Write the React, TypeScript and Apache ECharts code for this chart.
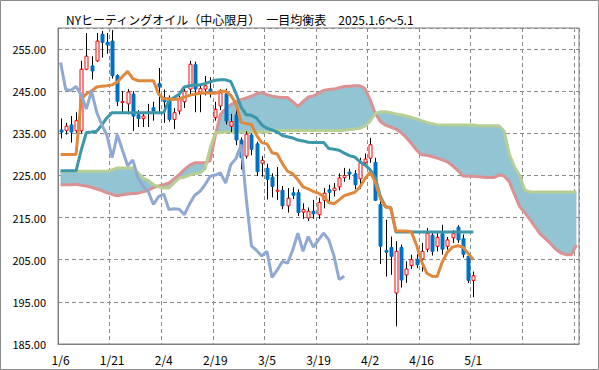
import React, { useEffect, useRef } from "react";
import * as echarts from "echarts";

const TITLE = "NYヒーティングオイル（中心限月）　一目均衡表　2025.1.6〜5.1";

// trading dates (1/6 .. 5/1)
const dates = [
  "1/6","1/7","1/8","1/9","1/10","1/13","1/14","1/15","1/16","1/17",
  "1/21","1/22","1/23","1/24","1/27","1/28","1/29","1/30","1/31","2/3",
  "2/4","2/5","2/6","2/7","2/10","2/11","2/12","2/13","2/14","2/18",
  "2/19","2/20","2/21","2/24","2/25","2/26","2/27","2/28","3/3","3/4",
  "3/5","3/6","3/7","3/10","3/11","3/12","3/13","3/14","3/17","3/18",
  "3/19","3/20","3/21","3/24","3/25","3/26","3/27","3/28","3/31","4/1",
  "4/2","4/3","4/4","4/7","4/8","4/9","4/10","4/11","4/14","4/15",
  "4/16","4/17","4/21","4/22","4/23","4/24","4/25","4/28","4/29","4/30",
  "5/1",
];
// future periods covered by the leading spans (no labels shown)
const futureDates = [
  "5/2","5/5","5/6","5/7","5/8","5/9","5/12","5/13","5/14","5/15",
  "5/16","5/19","5/20","5/21","5/22","5/23","5/27","5/28","5/29","5/30",
];

// [open, close, low, high]
const ohlc = [
  [235.8,235.3,233.8,238.5],[235.7,236.7,234.7,237.5],[237.0,235.3,232.8,239.1],[235.6,238.0,235.0,240.0],
  [235.6,250.2,235.0,252.2],[250.2,253.3,250.0,258.8],[251.0,249.8,247.8,253.3],[252.2,256.9,252.0,258.8],
  [258.5,256.6,253.0,259.3],[256.6,256.0,253.9,258.8],[256.9,248.7,248.0,259.5],[248.7,242.6,241.5,249.0],
  [242.3,242.6,240.0,245.0],[242.0,244.8,239.5,245.5],[244.3,239.1,235.6,245.0],[239.4,238.5,236.5,240.5],
  [238.5,239.1,236.5,240.0],[240.0,240.2,236.5,242.0],[241.1,240.3,238.0,242.5],[246.8,246.0,240.0,250.5],
  [243.5,242.5,237.5,245.4],[242.7,238.3,237.8,244.0],[238.3,239.9,236.0,241.0],[240.3,243.1,239.5,244.0],
  [242.5,245.0,241.0,246.0],[245.5,251.4,244.0,252.2],[251.3,245.5,240.0,252.0],[244.8,245.6,240.0,246.5],
  [245.5,246.3,244.0,248.6],[245.5,244.9,243.5,248.3],[238.7,240.7,238.0,242.5],[241.5,244.6,240.5,245.5],
  [244.4,237.9,237.1,245.6],[236.7,237.8,235.3,239.6],[239.4,233.4,232.2,240.5],[233.4,229.2,226.4,234.0],
  [229.6,234.8,229.0,235.5],[234.6,231.2,229.8,235.0],[232.5,225.9,224.9,233.0],[227.9,228.6,224.7,229.6],
  [226.7,224.1,219.3,227.8],[224.6,222.4,219.8,225.5],[221.3,221.5,219.2,227.0],[221.5,217.8,217.0,222.5],
  [217.8,219.6,216.2,222.0],[220.9,220.3,219.4,222.2],[220.9,216.2,215.4,221.7],[216.3,216.9,214.7,218.4],
  [214.9,216.5,214.2,217.4],[216.5,215.9,214.7,219.2],[215.7,218.6,214.7,219.7],[219.1,220.8,217.2,222.0],
  [221.6,221.0,218.9,222.8],[221.4,222.0,220.0,223.2],[222.3,224.4,221.5,225.5],[224.5,225.0,223.5,226.8],
  [225.8,225.3,224.0,226.6],[225.4,222.8,221.8,226.3],[224.2,228.0,221.8,229.2],[228.0,228.9,227.6,230.2],
  [229.1,232.3,228.0,233.9],[228.1,219.1,219.0,229.2],[218.1,208.2,204.0,219.2],[207.2,206.8,201.0,214.5],
  [207.9,205.8,201.4,210.5],[197.1,207.0,189.2,209.4],[207.9,200.2,198.4,208.6],[201.4,202.8,199.5,204.6],
  [203.6,205.0,202.8,206.2],[205.1,203.8,203.0,206.3],[205.2,207.0,202.2,209.0],[207.5,211.2,206.8,212.5],
  [210.8,207.0,206.0,211.8],[208.2,210.3,207.0,211.6],[211.2,207.5,206.2,213.3],[208.2,209.7,207.4,210.4],
  [210.2,211.2,209.0,212.0],[212.7,209.7,209.0,213.2],[210.0,206.3,205.5,211.0],[205.8,200.1,199.5,206.8],
  [200.1,201.2,196.1,202.2],
];

// 転換線
const conversion = [
  226.1,226.1,226.1,226.1,231.0,235.2,235.3,235.5,237.0,238.7,
  239.9,239.9,239.9,239.9,239.9,239.9,239.9,239.9,239.9,239.9,
  239.9,242.8,243.5,244.3,246.0,246.3,246.5,246.5,246.8,247.2,
  247.6,247.7,247.7,247.3,244.5,241.2,239.4,239.3,238.6,237.0,
  236.2,235.8,235.3,234.5,234.2,233.9,233.4,233.2,232.9,232.8,
  232.8,232.8,231.4,231.2,231.0,230.3,229.7,229.4,228.3,227.5,
  226.4,224.5,220.0,217.6,217.4,211.6,211.6,211.6,211.6,211.6,
  211.6,211.6,211.6,211.6,211.6,211.6,211.6,211.6,211.6,211.6,
  211.6,
];

// 基準線
const base = [
  230.0,230.0,230.0,230.0,243.0,244.4,245.0,246.0,246.2,246.3,
  246.5,247.2,248.5,249.7,248.0,247.5,247.5,247.5,247.5,244.3,
  243.2,243.2,243.0,243.2,243.6,244.0,244.3,244.5,244.6,244.6,
  244.5,245.0,245.0,244.0,242.1,237.6,237.3,237.1,234.5,232.8,
  232.5,230.4,230.1,227.8,226.0,225.4,224.0,222.3,221.8,221.2,
  220.8,220.0,218.6,218.3,219.2,220.2,220.6,221.0,222.2,224.2,
  225.8,223.5,219.5,217.5,217.3,211.8,211.8,211.8,211.6,208.5,
  204.5,201.8,201.1,201.0,204.5,206.8,208.0,208.3,208.0,206.5,
  205.0,
];

// 遅行スパン
const lagging = [
  251.8,245.4,245.2,246.1,244.2,240.8,245.0,240.0,237.0,234.5,
  229.2,234.7,231.0,227.3,228.7,224.4,222.5,221.2,218.1,220.0,
  220.6,216.9,217.1,217.0,215.7,218.2,220.3,221.2,222.8,224.8,
  225.1,225.6,223.2,227.6,229.0,232.3,219.5,208.3,207.2,205.9,
  207.0,200.8,202.6,204.6,204.2,207.3,211.3,207.0,210.5,208.0,
  209.7,211.3,209.7,205.9,200.3,201.1,
];

// 先行スパン1
const spanA = [
  225.8,226.0,226.0,226.0,226.0,226.0,226.0,226.0,226.0,226.0,
  226.3,226.8,226.8,226.8,226.8,225.6,224.4,223.8,222.8,222.3,
  222.0,222.0,223.2,224.4,224.6,225.1,225.4,225.6,226.5,231.5,
  235.0,235.2,235.3,235.3,235.3,235.3,235.3,235.3,235.3,235.3,
  235.3,235.7,235.7,235.7,235.7,235.7,235.7,235.7,235.7,235.7,
  235.7,235.7,235.7,235.7,235.7,235.7,235.9,236.0,236.2,236.7,
  237.9,239.7,240.1,240.1,239.9,239.6,239.4,239.1,238.8,238.4,
  238.0,237.6,237.3,237.0,237.0,237.0,237.0,237.0,237.0,237.0,
  237.0,236.8,236.8,236.8,236.8,236.8,235.5,230.0,227.0,225.0,
  221.5,221.1,221.1,221.1,221.1,221.1,221.1,221.1,221.1,221.1,
  221.1,
];

// 先行スパン2
const spanB = [
  222.8,222.8,222.8,222.9,222.7,222.5,222.2,221.8,221.4,220.9,
  220.5,220.2,220.4,220.6,220.7,220.8,221.1,221.5,222.1,222.5,
  222.8,223.2,224.2,225.2,226.4,227.4,228.0,228.0,228.0,228.5,
  234.5,239.5,240.8,241.8,242.4,243.0,243.4,243.8,244.4,244.7,
  244.2,243.8,243.6,243.5,243.5,242.5,241.4,242.5,243.6,243.9,
  244.5,245.2,245.4,245.5,245.8,246.1,246.2,246.3,246.3,245.6,
  243.0,239.7,237.8,236.9,236.5,236.0,235.2,234.0,232.6,231.0,
  229.9,229.8,229.5,229.1,228.7,228.2,227.3,226.2,224.9,224.8,
  224.8,224.7,224.6,224.5,224.5,225.1,224.9,223.5,220.5,217.6,
  216.2,214.5,212.8,211.1,210.0,208.8,207.5,206.6,206.2,206.2,
  208.5,
];

const FONT = "'Noto Sans CJK JP', 'Noto Sans', sans-serif";

export default function App() {
  const ref = useRef<HTMLDivElement>(null);

  useEffect(() => {
    document.body.style.margin = "0";
    if (!ref.current) return;
    const chart = echarts.init(ref.current, undefined, { renderer: "svg" });
    const categories = dates.concat(futureDates);
    const candleData = ohlc.map((d, i) => [i, d[0], d[1], d[2], d[3]]);

    const option: any = {
      animation: false,
      backgroundColor: "#ffffff",
      textStyle: { fontFamily: FONT },
      title: {
        text: TITLE,
        left: 61,
        top: 8,
        textStyle: { fontSize: 12, fontWeight: "normal", color: "#000", fontFamily: FONT },
      },
      graphic: [
        {
          type: "rect",
          shape: { x: 0.5, y: 0.5, width: 598, height: 369 },
          style: { fill: "none", stroke: "#8c8c8c", lineWidth: 1 },
          silent: true,
        },
      ],
      grid: {
        left: 58,
        top: 28,
        right: 20,
        bottom: 26,
        show: true,
        borderColor: "#808080",
        borderWidth: 1,
        backgroundColor: "#fff",
      },
      xAxis: {
        type: "category",
        data: categories,
        boundaryGap: true,
        axisLine: { lineStyle: { color: "#808080" } },
        axisTick: { interval: 9, length: 5, lineStyle: { color: "#808080" } },
        axisLabel: {
          interval: 9,
          color: "#000",
          fontSize: 12,
          margin: 9,
          fontFamily: FONT,
          formatter: (v: string, i: number) => (i < dates.length ? v : ""),
        },
        splitLine: { show: true, interval: 9, lineStyle: { color: "#8a8a8a", type: [4, 3], width: 1 } },
      },
      yAxis: {
        type: "value",
        min: 185,
        max: 260,
        interval: 10,
        axisLine: { show: true, lineStyle: { color: "#808080" } },
        axisTick: { show: false },
        axisLabel: {
          color: "#000",
          fontSize: 11,
          margin: 12,
          fontFamily: FONT,
          formatter: (v: number) => (v >= 260 ? "" : v.toFixed(2)),
        },
        splitLine: { show: true, lineStyle: { color: "#8a8a8a", type: [4, 3], width: 1 } },
      },
      series: [
        {
          type: "custom",
          name: "cloud",
          silent: true,
          z: 1,
          data: [[0, spanA[0]]],
          renderItem: (params: any, api: any) => {
            if (params.dataIndex !== 0) return null;
            const pts: number[][] = [];
            for (let i = 0; i < spanA.length; i++) pts.push(api.coord([i, spanA[i]]));
            for (let i = spanB.length - 1; i >= 0; i--) pts.push(api.coord([i, spanB[i]]));
            return { type: "polygon", shape: { points: pts }, style: { fill: "#93c4d4" } };
          },
        },
        {
          type: "line",
          name: "spanB",
          data: spanB,
          showSymbol: false,
          z: 2,
          lineStyle: { color: "#d99291", width: 3 },
        },
        {
          type: "line",
          name: "spanA",
          data: spanA,
          showSymbol: false,
          z: 2,
          lineStyle: { color: "#b8cf93", width: 3 },
        },
        {
          type: "custom",
          name: "candles",
          z: 3,
          data: candleData,
          encode: { x: 0, y: [1, 2, 3, 4] },
          renderItem: (params: any, api: any) => {
            const i = api.value(0);
            const o = api.value(1);
            const c = api.value(2);
            const l = api.value(3);
            const h = api.value(4);
            const pO = api.coord([i, o]);
            const pC = api.coord([i, c]);
            const pL = api.coord([i, l]);
            const pH = api.coord([i, h]);
            const x = Math.round(pO[0]) + 0.5;
            const up = c >= o;
            const top = Math.min(pO[1], pC[1]);
            const bh = Math.max(Math.abs(pO[1] - pC[1]), 1);
            return {
              type: "group",
              children: [
                {
                  type: "line",
                  shape: { x1: x, y1: pH[1], x2: x, y2: pL[1] },
                  style: { stroke: "#000", lineWidth: 1 },
                },
                {
                  type: "rect",
                  shape: { x: x - 1.5, y: top, width: 3, height: bh },
                  style: {
                    fill: up ? "#ffffff" : "#0070c0",
                    stroke: up ? "#ff0000" : "#0070c0",
                    lineWidth: 1,
                  },
                },
              ],
            };
          },
        },
        {
          type: "line",
          name: "conversion",
          data: conversion,
          showSymbol: false,
          z: 4,
          lineStyle: { color: "#3b97a9", width: 3 },
        },
        {
          type: "line",
          name: "base",
          data: base,
          showSymbol: false,
          z: 5,
          lineStyle: { color: "#e0883b", width: 3 },
        },
        {
          type: "line",
          name: "lagging",
          data: lagging,
          showSymbol: false,
          z: 6,
          lineStyle: { color: "#90a9d3", width: 3 },
        },
      ],
    };
    chart.setOption(option);
    return () => chart.dispose();
  }, []);

  return (
    <div
      ref={ref}
      style={{ width: 599, height: 370, position: "absolute", left: 0, top: 0 }}
    />
  );
}
